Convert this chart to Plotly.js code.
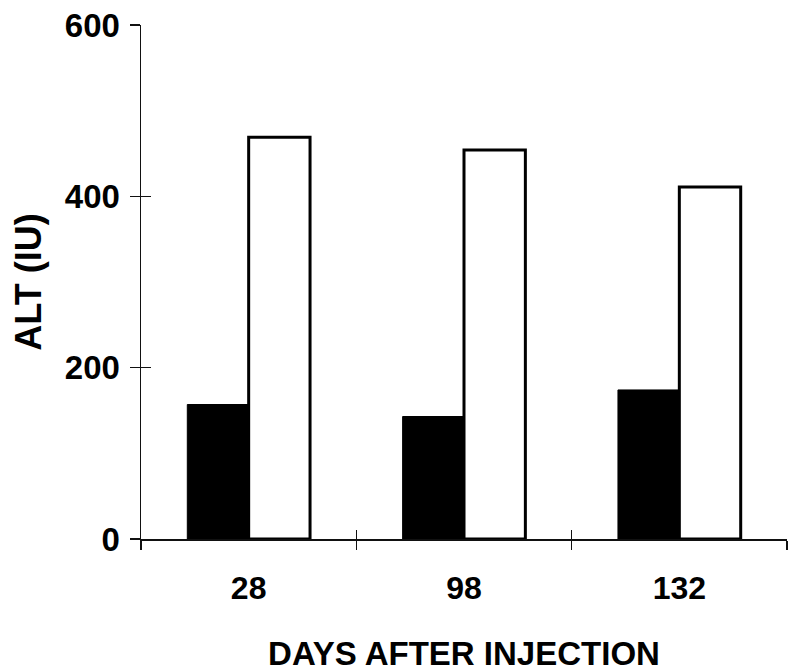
<!DOCTYPE html>
<html>
<head>
<meta charset="utf-8">
<script src="https://cdn.plot.ly/plotly-3.0.1.min.js"></script>
<style>html,body{margin:0;padding:0;background:#fff;}#chart{width:799px;height:672px;}</style>
</head>
<body>
<div id="chart"></div>
<script>
const days = ["28", "98", "132"];
const groupA = [157, 143, 174];
const groupB = [469, 454, 411];
const yTicks = [0, 200, 400, 600];
const yTitle = "ALT (IU)";
const xTitle = "DAYS AFTER INJECTION";

const FONT = "Arial, 'Liberation Sans', Helvetica, sans-serif";

const traces = [
  {
    type: "bar", x: days, y: groupA, name: "A",
    marker: {color: "#000", line: {color: "#000", width: 1}},
    hoverinfo: "skip"
  },
  {
    type: "bar", x: days, y: groupB, name: "B",
    marker: {color: "#fff", line: {color: "#000", width: 3}},
    hoverinfo: "skip"
  },
  {
    type: "scatter", mode: "markers", x: days, y: groupA,
    xaxis: "x2", yaxis: "y2", marker: {opacity: 0}, hoverinfo: "skip", showlegend: false
  }
];

const layout = {
  width: 799, height: 672,
  margin: {l: 141, r: 12, t: 25, b: 133},
  paper_bgcolor: "#fff", plot_bgcolor: "#fff",
  showlegend: false,
  barmode: "group", bargap: 0.43, bargroupgap: 0,
  font: {family: FONT, color: "#000", size: 32, weight: "bold"},
  xaxis: {
    type: "category", categoryarray: days, range: [-0.5, 2.5],
    showline: true, linecolor: "#111", linewidth: 2,
    ticks: "outside", tickson: "boundaries", ticklen: 9, tickwidth: 1.5, tickcolor: "#111",
    showgrid: false, zeroline: false,
    tickfont: {family: FONT, size: 32, weight: "bold", color: "#000"},
    ticklabelstandoff: 20,
    title: {text: xTitle, font: {family: FONT, size: 33, weight: "bold", color: "#000"}, standoff: 42},
    automargin: false, fixedrange: true
  },
  yaxis: {
    range: [0, 600], tickvals: yTicks,
    showline: true, linecolor: "#111", linewidth: 1.5,
    ticks: "outside", ticklen: 10, tickwidth: 1.5, tickcolor: "#111",
    showgrid: false, zeroline: false,
    tickfont: {family: FONT, size: 33, weight: "bold", color: "#000"},
    ticklabelstandoff: 3,
    title: {text: yTitle, font: {family: FONT, size: 36, weight: "bold", color: "#000"}, standoff: 12},
    automargin: false, fixedrange: true
  },
  xaxis2: {
    type: "category", categoryarray: days, range: [-0.5, 2.5],
    overlaying: "x", anchor: "y2", side: "bottom",
    ticks: "inside", tickson: "boundaries", ticklen: 9, tickwidth: 1.5, tickcolor: "#111",
    showticklabels: false, showline: false, showgrid: false, zeroline: false, fixedrange: true
  },
  yaxis2: {
    range: [0, 600], tickvals: yTicks,
    overlaying: "y", anchor: "x2", side: "left",
    ticks: "inside", ticklen: 10, tickwidth: 1.5, tickcolor: "#111",
    showticklabels: false, showline: false, showgrid: false, zeroline: false, fixedrange: true
  }
};

Plotly.newPlot("chart", traces, layout, {displayModeBar: false, staticPlot: true});
</script>
</body>
</html>
